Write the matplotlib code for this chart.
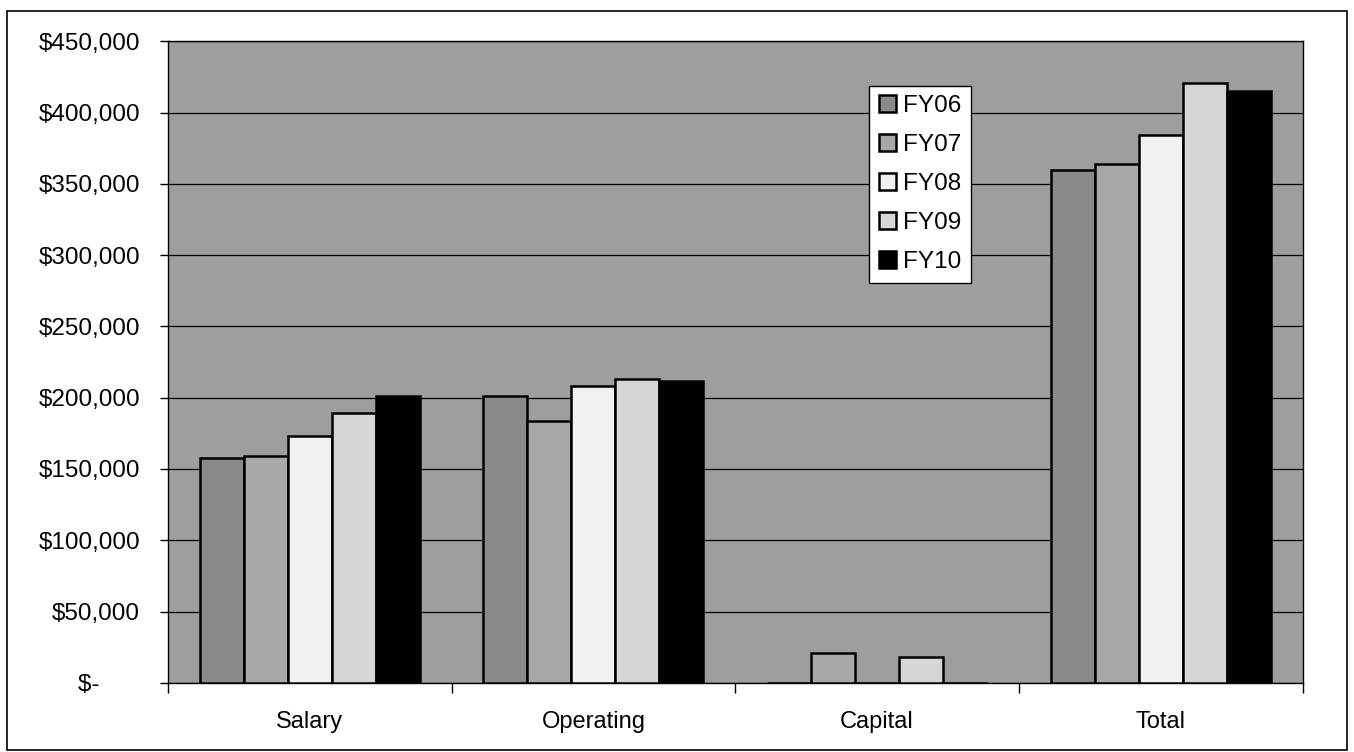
import numpy as np
import matplotlib.pyplot as plt
from matplotlib.patches import Rectangle
from matplotlib.ticker import FuncFormatter

plt.rcParams['font.family'] = ['Liberation Sans', 'DejaVu Sans']

# Data
categories = ['Salary', 'Operating', 'Capital', 'Total']
years = ['FY06', 'FY07', 'FY08', 'FY09', 'FY10']
fy06 = [158000, 201000, 0, 360000]
fy07 = [159000, 184000, 21000, 364000]
fy08 = [173000, 208000, 0, 384000]
fy09 = [189000, 213000, 18000, 421000]
fy10 = [201000, 212000, 0, 415000]
series = [fy06, fy07, fy08, fy09, fy10]

colors = ['#8a8a8a', '#a9a9a9', '#f2f2f2', '#d6d6d6', '#000000']
bg = '#9e9e9e'

fig = plt.figure(figsize=(13.54, 7.52), dpi=100)
ax = fig.add_axes([0.124, 0.092, 0.838, 0.853])
ax.set_facecolor(bg)

x = np.arange(len(categories))
w = 0.155
for i, (vals, c) in enumerate(zip(series, colors)):
    ax.bar(x + (i - 2) * w, vals, w, color=c, edgecolor='black',
           linewidth=1.8, label=years[i], zorder=3)

ax.set_xlim(-0.5, len(categories) - 0.5)
ax.set_ylim(0, 450000)
ax.set_yticks(np.arange(0, 450001, 50000))
ax.yaxis.set_major_formatter(FuncFormatter(
    lambda v, p: '$-      ' if v == 0 else '${:,.0f}'.format(v)))
ax.yaxis.grid(True, color='black', linewidth=0.9, zorder=1)
ax.tick_params(axis='y', labelsize=17.5, length=6, width=1, color='black', pad=14)

ax.set_xticks(x)
ax.set_xticklabels(categories, fontsize=17)
ax.set_xticks(np.arange(-0.5, len(categories)), minor=True)
ax.tick_params(axis='x', which='major', length=0, pad=20)
ax.tick_params(axis='x', which='minor', length=7, width=1)

for s in ax.spines.values():
    s.set_color('black')
    s.set_linewidth(1)

leg = ax.legend(loc='upper left', bbox_to_anchor=(0.618, 0.931), fontsize=17.5,
                frameon=True, fancybox=False, edgecolor='black', framealpha=1,
                handlelength=0.7, handleheight=0.7, handletextpad=0.3,
                labelspacing=0.7, borderpad=0.4, borderaxespad=0)
leg.get_frame().set_linewidth(1)

# outer chart border
fig.patches.append(Rectangle((0.005, 0.003), 0.99, 0.983, transform=fig.transFigure,
                             fill=False, edgecolor='black', linewidth=1.2))

fig.savefig('out.png', dpi=100, facecolor='white')
